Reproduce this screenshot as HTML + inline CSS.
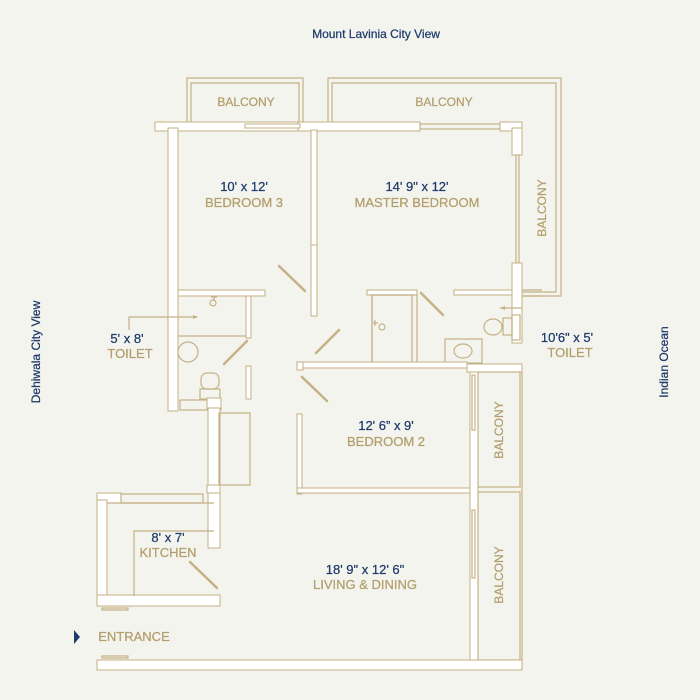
<!DOCTYPE html>
<html><head><meta charset="utf-8"><style>
html,body{margin:0;padding:0;background:#f4f4ef;}
svg{display:block}
.w{fill:#fff;stroke:#c4b184;stroke-width:1}
.l{fill:none;stroke:#c4b184;stroke-width:1.2}
.d{stroke:#c4b184;stroke-width:2.5;stroke-linecap:round}
text{font-family:"Liberation Sans",sans-serif;font-size:12px;text-anchor:middle}
.n{fill:#1f3b6b;stroke:#1f3b6b;stroke-width:0.25}
.t{fill:#b39e6c;stroke:#b39e6c;stroke-width:0.25}
</style></head><body>
<svg width="700" height="700" viewBox="0 0 700 700">
<rect width="700" height="700" fill="#f4f4ef"/>
<text class="n" x="376" y="38">Mount Lavinia City View</text>
<text class="n" x="40" y="352" transform="rotate(-90 40 352)">Dehiwala City View</text>
<text class="n" x="668" y="362" transform="rotate(-90 668 362)">Indian Ocean</text>

<path class="l" d="M187 126 V78 H303 V126 M191 126 V83 H299 V126"/>
<path class="l" d="M328 126 V78 H561 V296 H522 M332 126 V83 H556 V292 H522"/>
<text class="t" x="246" y="106">BALCONY</text>
<text class="t" x="444" y="106">BALCONY</text>
<text class="t" x="546" y="208" transform="rotate(-90 546 208)">BALCONY</text>

<rect class="w" x="155" y="122" width="146" height="9"/>
<rect class="w" x="298" y="122" width="122" height="9"/>
<rect class="l" x="420" y="124" width="90" height="5"/>
<rect class="w" x="500" y="122" width="22" height="9"/>
<rect class="w" x="245" y="124" width="55" height="4"/>
<rect class="w" x="168" y="128" width="10" height="283"/>
<rect class="w" x="311" y="130" width="6" height="115"/>
<rect class="w" x="311" y="245" width="6" height="71"/>
<rect class="w" x="512" y="128" width="10" height="27"/>
<rect class="l" x="516" y="155" width="3" height="108"/>
<rect class="w" x="512" y="263" width="10" height="80"/>
<rect class="w" x="178" y="290" width="87" height="6"/>
<rect class="w" x="367" y="290" width="50" height="5"/>
<rect class="w" x="454" y="290" width="58" height="5"/>
<path class="l" d="M522 290 H542 M522 296 H542"/>
<rect class="w" x="246" y="296" width="5" height="42"/>
<path class="l" d="M178 336 H246"/>
<path class="l" d="M211 297 h6 M214 297 v4"/><circle class="l" cx="213" cy="303" r="3"/>
<ellipse class="l" cx="188" cy="352" rx="10" ry="10"/>
<rect class="l" x="201" y="373" width="18" height="16" rx="6"/>
<rect class="l" x="200" y="389" width="20" height="10"/>
<rect class="l" x="180" y="400" width="28" height="10"/>
<rect class="w" x="207" y="398" width="14" height="12"/>
<rect class="w" x="246" y="366" width="5" height="33"/>
<path class="d" d="M224 364 L247 341"/>
<path class="d" d="M279 266 L305 291"/>
<path class="l" d="M129 330 V317 H197"/><path d="M198 317 l-5 -2 v4z" fill="#c4b184"/>
<text class="n" x="127" y="343" style="font-size:13px">5' x 8'</text>
<text class="t" x="130" y="358" style="font-size:13px">TOILET</text>
<rect class="l" x="372" y="295" width="45" height="68"/>
<rect class="l" x="372" y="295" width="40" height="68"/>
<path class="l" d="M373 323 h5 M375 320 v6"/><circle class="l" cx="382" cy="327" r="3"/>
<path class="d" d="M421 293 L443 315"/>
<rect class="l" x="445" y="339" width="37" height="24"/>
<ellipse class="l" cx="463" cy="351" rx="9" ry="7"/>
<ellipse class="l" cx="493" cy="327" rx="9" ry="8"/>
<rect class="l" x="503" y="318" width="9" height="17"/>
<rect class="l" x="512" y="315" width="8" height="25"/>
<path class="l" d="M522 308 H500"/><path d="M500 308 l5 -2 v4z" fill="#c4b184"/>
<text class="n" x="567" y="342" style="font-size:13px">10'6" x 5'</text>
<text class="t" x="570" y="357" style="font-size:13px">TOILET</text>
<rect class="w" x="297" y="362" width="170" height="6"/>
<rect class="w" x="467" y="364" width="55" height="8"/>
<rect class="w" x="297" y="362" width="6" height="8"/>
<path class="d" d="M316 353 L339 330"/>
<path class="d" d="M302 377 L327 401"/>
<rect class="w" x="297" y="414" width="5" height="80"/>
<rect class="w" x="297" y="488" width="173" height="5"/>
<rect class="w" x="470" y="372" width="8" height="288"/>
<rect class="l" x="472" y="375" width="3" height="55"/>
<rect class="l" x="472" y="510" width="3" height="68"/>
<rect class="l" x="478" y="372" width="42" height="115"/>
<rect class="l" x="478" y="492" width="42" height="168"/>
<path class="l" d="M522 372 V670"/>
<text class="t" x="503" y="430" transform="rotate(-90 503 430)">BALCONY</text>
<text class="t" x="503" y="575" transform="rotate(-90 503 575)">BALCONY</text>
<text class="n" x="386" y="430" style="font-size:13px">12' 6” x 9'</text>
<text class="t" x="386" y="446" style="font-size:13px">BEDROOM 2</text>
<rect class="w" x="208" y="408" width="12" height="80"/>
<rect class="l" x="219" y="413" width="31" height="72"/>
<rect class="w" x="207" y="485" width="13" height="8"/>
<rect class="w" x="208" y="493" width="12" height="55"/>
<rect class="w" x="97" y="493" width="24" height="10"/>
<rect class="l" x="121" y="494" width="82" height="9"/>
<rect class="w" x="97" y="500" width="10" height="106"/>
<rect class="w" x="97" y="595" width="123" height="11"/>
<path class="l" d="M134 596 V531 H214 M107 503 H214"/>
<path class="d" d="M190 562 L217 588"/>
<rect class="l" x="102" y="608" width="26" height="2"/>
<rect class="l" x="102" y="656" width="26" height="2"/>
<text class="n" x="168" y="542" style="font-size:13px">8' x 7'</text>
<text class="t" x="168" y="557" style="font-size:13px">KITCHEN</text>
<rect class="w" x="97" y="660" width="425" height="10"/>
<text class="n" x="365" y="574" style="font-size:13px">18' 9" x 12' 6"</text>
<text class="t" x="365" y="589" style="font-size:13px">LIVING &amp; DINING</text>
<path d="M74 630 L80 637 L74 644 Z" fill="#1f3b6b"/>
<text class="t" x="134" y="641" style="font-size:13px">ENTRANCE</text>
<text class="n" x="244" y="191" style="font-size:13px">10' x 12'</text>
<text class="t" x="244" y="207" style="font-size:13px">BEDROOM 3</text>
<text class="n" x="417" y="191" style="font-size:13px">14' 9" x 12'</text>
<text class="t" x="417" y="207" style="font-size:13px">MASTER BEDROOM</text>
</svg>
</body></html>
